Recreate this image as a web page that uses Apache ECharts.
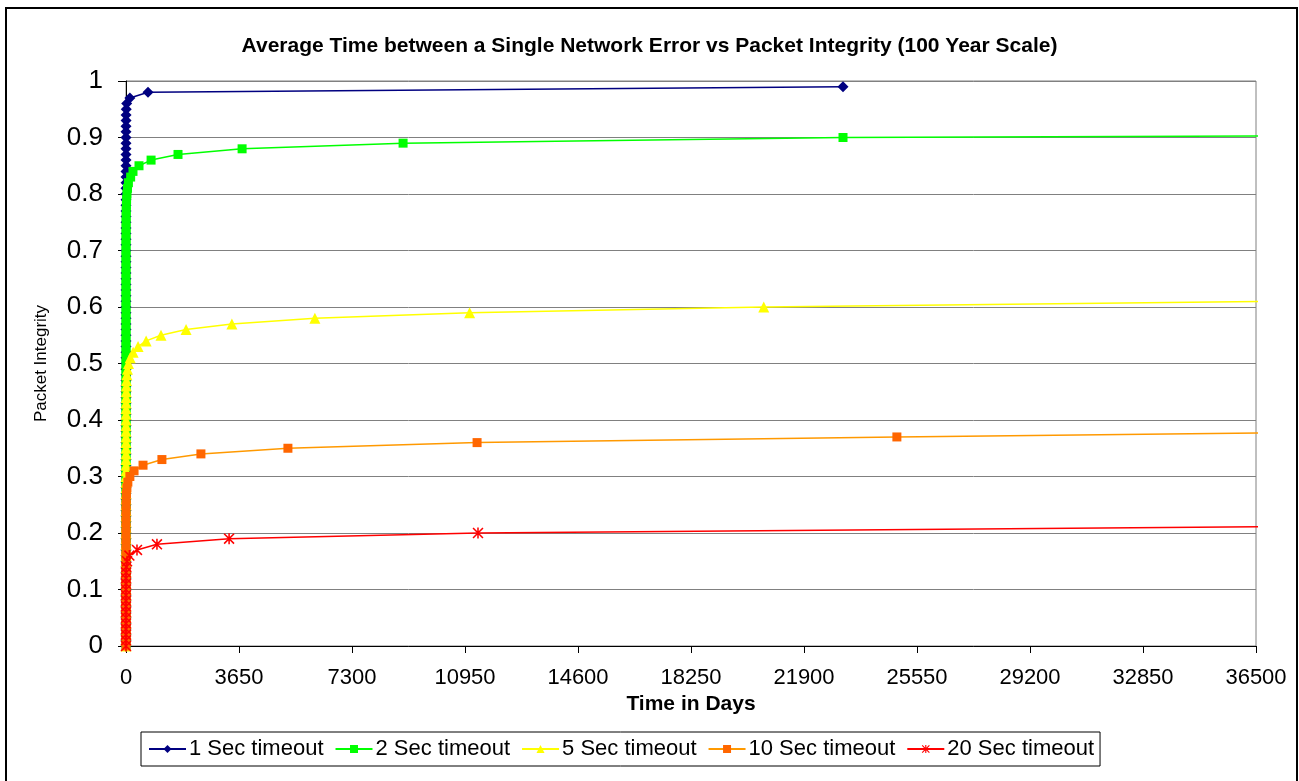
<!DOCTYPE html>
<html>
<head>
<meta charset="utf-8">
<script src="https://cdn.jsdelivr.net/npm/echarts@6/dist/echarts.min.js"></script>
<style>
html,body{margin:0;padding:0;background:#fff;}
#chart{width:1299px;height:781px;}
</style>
</head>
<body>
<div id="chart"></div>
<script>
// Packet integrity levels (y values), shared by all series
const integrityLevels = [
  0.00,0.01,0.02,0.03,0.04,0.05,0.06,0.07,0.08,0.09,
  0.10,0.11,0.12,0.13,0.14,0.15,0.16,0.17,0.18,0.19,
  0.20,0.21,0.22,0.23,0.24,0.25,0.26,0.27,0.28,0.29,
  0.30,0.31,0.32,0.33,0.34,0.35,0.36,0.37,0.38,0.39,
  0.40,0.41,0.42,0.43,0.44,0.45,0.46,0.47,0.48,0.49,
  0.50,0.51,0.52,0.53,0.54,0.55,0.56,0.57,0.58,0.59,
  0.60,0.61,0.62,0.63,0.64,0.65,0.66,0.67,0.68,0.69,
  0.70,0.71,0.72,0.73,0.74,0.75,0.76,0.77,0.78,0.79,
  0.80,0.81,0.82,0.83,0.84,0.85,0.86,0.87,0.88,0.89,
  0.90,0.91,0.92,0.93,0.94,0.95,0.96,0.97,0.98,0.99
];

// Average time (days) between a single network error, per integrity level
const days1sec = [
  0,0,0,0,0,0,0,0,0,0,
  0,0,0,0,0,0,0,0,0,0,
  0,0,0,0,0,0,0,0,0,0,
  0,0,0,0,0,0,0,0,0,0,
  0,0,0,0,0,0,0,0,0,0,
  0,0,0,0,0,0,0,0,0,0,
  0,0,0,0,0,0,0,0,0,0,
  0,0,0,0,0,0,0,0,0,0,
  0,0,0,0,0,0,0,0,0,0,
  0.2,0.4,0.7,1.3,2.9,7.3,22,125,711,23160
];
const days2sec = [
  0,0,0,0,0,0,0,0,0,0,
  0,0,0,0,0,0,0,0,0,0,
  0,0,0,0,0,0,0,0,0,0,
  0,0,0,0,0,0,0,0,0,0,
  0,0,0,0,0,0,0,0,0,0,
  0,0,0,0,0,0,0,0,0,0,
  0,0,0,0,0,0,0,0,0,0,
  0.5,0.7,1.0,1.5,2.3,3.4,5,8,12,19,
  30,48,78,150,226,420,810,1680,3750,8950,
  23160
];
const days5sec = [
  0,0,0,0,0,0,0,0,0,0,
  0,0,0,0,0,0,0,0,0,0,
  0,0,0,0,0,0,0,0,0,0,
  0,0,0,0,0,0,0,0,0,0,
  0.5,0.8,1.3,2.2,3.7,6,10,17,29,48,
  80,135,230,390,650,1130,1940,3420,6100,11100,
  20600
];
const days10sec = [
  0,0,0,0,0,0,0,0,0,0,
  0,0,0,0,0,0,0,0,0,0,
  0,0,0,0.8,1.6,3.4,7,14,29,60,
  125,260,550,1160,2420,5230,11340,24900
];
const days20sec = [
  0,0,0,0,0,0,0,0,0,0,
  0,0,1,3,10,34,110,355,1000,3330,
  11370
];

// Where each continuing line leaves the plot (just past 100 years)
const exitDays = 36700;
const exitIntegrity = { s2: 0.9025, s5: 0.6097, s10: 0.3769, s20: 0.211 };

const seriesNames = ['1 Sec timeout','2 Sec timeout','5 Sec timeout','10 Sec timeout','20 Sec timeout'];
const xTicks = [0,3650,7300,10950,14600,18250,21900,25550,29200,32850,36500];

function pairs(days, exitVal) {
  const out = days.map((d, i) => [d, integrityLevels[i]]);
  if (exitVal !== undefined) out.push({ value: [exitDays, exitVal], symbol: 'none' });
  return out;
}

const asterisk = 'path://M4.3,0 L5.7,0 L5.7,10 L4.3,10 Z M0,1 L1,0 L10,9 L9,10 Z M9,0 L10,1 L1,10 L0,9 Z';

const chart = echarts.init(document.getElementById('chart'), null, { renderer: 'canvas' });
const font = 'Liberation Sans, Arial, sans-serif';

function mkSeries(name, data, lineColor, markColor, symbol, size) {
  return {
    name: name,
    type: 'line',
    data: data,
    symbol: symbol,
    symbolSize: size,
    showSymbol: true,
    clip: false,
    lineStyle: { color: lineColor, width: 1.5 },
    itemStyle: { color: markColor, borderWidth: 0 },
    emphasis: { disabled: true },
    animation: false
  };
}

chart.setOption({
  animation: false,
  backgroundColor: '#ffffff',
  title: {
    text: 'Average Time between a Single Network Error vs Packet Integrity (100 Year Scale)',
    left: 'center',
    top: 31,
    textStyle: { fontFamily: font, fontSize: 21, fontWeight: 'bold', color: '#000' }
  },
  graphic: [{
    type: 'rect',
    shape: { x: 6, y: 8, width: 1291, height: 790 },
    style: { fill: 'none', stroke: '#000', lineWidth: 2 },
    silent: true
  }],
  legend: {
    left: 141,
    top: 732,
    data: seriesNames,
    itemWidth: 37,
    itemHeight: 10,
    itemGap: 11,
    padding: [6, 6, 6, 7],
    borderColor: '#000',
    borderWidth: 1,
    textStyle: { fontFamily: font, fontSize: 22, color: '#000', padding: [0, 0, 0, -2] }
  },
  grid: {
    left: 126, right: 43, top: 81, bottom: 135,
    show: true, borderColor: '#808080', borderWidth: 1, backgroundColor: '#fff'
  },
  xAxis: {
    type: 'value',
    min: 0, max: 36500, interval: 3650,
    name: 'Time in Days',
    nameLocation: 'middle',
    nameGap: 46,
    nameTextStyle: { fontFamily: font, fontSize: 21, fontWeight: 'bold', color: '#000' },
    axisLine: { onZero: false, lineStyle: { color: '#000', width: 1 } },
    axisTick: { show: true, length: 7, lineStyle: { color: '#000' } },
    axisLabel: { fontFamily: font, fontSize: 22, color: '#000', margin: 21, formatter: v => String(v) },
    splitLine: { show: false }
  },
  yAxis: {
    type: 'value',
    min: 0, max: 1, interval: 0.1,
    name: 'Packet Integrity',
    nameLocation: 'middle',
    nameGap: 76,
    nameTextStyle: { fontFamily: font, fontSize: 17, color: '#000' },
    axisLine: { show: true, lineStyle: { color: '#000', width: 1 } },
    axisTick: { show: true, length: 8, lineStyle: { color: '#000' } },
    axisLabel: { fontFamily: font, fontSize: 26, color: '#000', margin: 23 },
    splitLine: { show: true, lineStyle: { color: '#808080', width: 1 } }
  },
  series: [
    mkSeries(seriesNames[0], pairs(days1sec), '#000080', '#000080', 'diamond', 11),
    mkSeries(seriesNames[1], pairs(days2sec, exitIntegrity.s2), '#00FF00', '#00FF00', 'rect', 9),
    mkSeries(seriesNames[2], pairs(days5sec, exitIntegrity.s5), '#FFFF00', '#FFFF00', 'triangle', 11),
    mkSeries(seriesNames[3], pairs(days10sec, exitIntegrity.s10), '#FF9900', '#FF6600', 'rect', 9),
    mkSeries(seriesNames[4], pairs(days20sec, exitIntegrity.s20), '#FF0000', '#FF0000', asterisk, 11)
  ]
});
</script>
</body>
</html>
